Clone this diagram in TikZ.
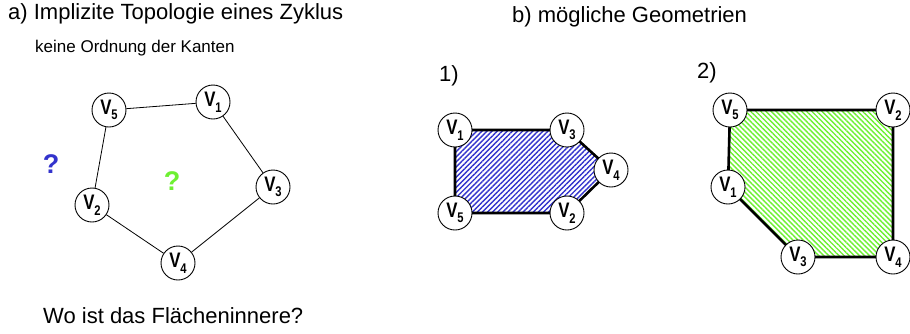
\documentclass[tikz,border=0pt]{standalone}
\usepackage{fontspec}
\setmainfont{Liberation Sans}
\usetikzlibrary{patterns.meta}
\definecolor{hblue}{RGB}{51,51,204}
\definecolor{hgreen}{RGB}{110,240,50}
\newcommand{\vlab}[1]{\scalebox{0.8}[1]{V\kern-0.5pt\raisebox{-0.5ex}{\fontsize{14}{14}\selectfont #1}}}
\begin{document}
\begin{tikzpicture}[x=1pt,y=-1pt,
  vx/.style={circle,draw,line width=0.9pt,fill=white,minimum size=34pt,inner sep=0pt,
    font=\fontsize{21}{21}\selectfont\bfseries},
  thin edge/.style={line width=0.8pt},
  thick edge/.style={line width=2.6pt,line join=miter},
  big/.style={font=\fontsize{22}{22}\selectfont,inner sep=0pt},
  small/.style={font=\fontsize{17}{17}\selectfont,inner sep=0pt},
  qmark/.style={font=\fontsize{27}{27}\selectfont\bfseries,inner sep=0pt}]
\useasboundingbox (0,0) rectangle (910,333);
% titles
\node[big,anchor=west] (ta) at (8,14) {a) Implizite Topologie eines Zyklus};
\node[small,anchor=west] (tk) at (35,48) {keine Ordnung der Kanten};
\node[big,anchor=west] (tb) at (512,17) {b) mögliche Geometrien};
\node[big,anchor=west] (t1) at (439,76) {1)};
\node[big,anchor=west] (t2) at (697,73) {2)};
\node[big,anchor=west] (tw) at (43,316) {Wo ist das Flächeninnere?};
% part a
\node[vx] (a5) at (109,110) {\vlab{5}};
\node[vx] (a1) at (213,102) {\vlab{1}};
\node[vx] (a3) at (273,187) {\vlab{3}};
\node[vx] (a2) at (92,205) {\vlab{2}};
\node[vx] (a4) at (178,263) {\vlab{4}};
\draw[thin edge] (a5) -- (a1);
\draw[thin edge] (a1) -- (a3);
\draw[thin edge] (a3) -- (a4);
\draw[thin edge] (a4) -- (a2);
\draw[thin edge] (a2) -- (a5);
\node[qmark,text=hblue] (qb) at (51,164) {?};
\node[qmark,text=hgreen] (qg) at (172,181) {?};
% part b1
\coordinate (p1) at (455,130);
\coordinate (p3) at (567,130);
\coordinate (p4) at (611,170);
\coordinate (p2) at (567,213);
\coordinate (p5) at (455,213);
\fill[pattern={Lines[angle=45,distance=3.6pt,line width=1.4pt]},pattern color=hblue]
  (p1) -- (p3) -- (p4) -- (p2) -- (p5) -- cycle;
\draw[thick edge] (p1) -- (p3) -- (p4) -- (p2) -- (p5) -- cycle;
\node[vx] (b1) at (p1) {\vlab{1}};
\node[vx] (b3) at (p3) {\vlab{3}};
\node[vx] (b4) at (p4) {\vlab{4}};
\node[vx] (b2) at (p2) {\vlab{2}};
\node[vx] (b5) at (p5) {\vlab{5}};
% part b2
\coordinate (q5) at (730,110);
\coordinate (q2) at (893,110);
\coordinate (q4) at (893,257);
\coordinate (q3) at (798,257);
\coordinate (q1) at (728,187);
\fill[pattern={Lines[angle=-45,distance=3.6pt,line width=1.4pt]},pattern color=hgreen]
  (q5) -- (q2) -- (q4) -- (q3) -- (q1) -- cycle;
\draw[thick edge] (q5) -- (q2) -- (q4) -- (q3) -- (q1) -- cycle;
\node[vx] (c5) at (q5) {\vlab{5}};
\node[vx] (c2) at (q2) {\vlab{2}};
\node[vx] (c4) at (q4) {\vlab{4}};
\node[vx] (c3) at (q3) {\vlab{3}};
\node[vx] (c1) at (q1) {\vlab{1}};
\end{tikzpicture}
\end{document}
